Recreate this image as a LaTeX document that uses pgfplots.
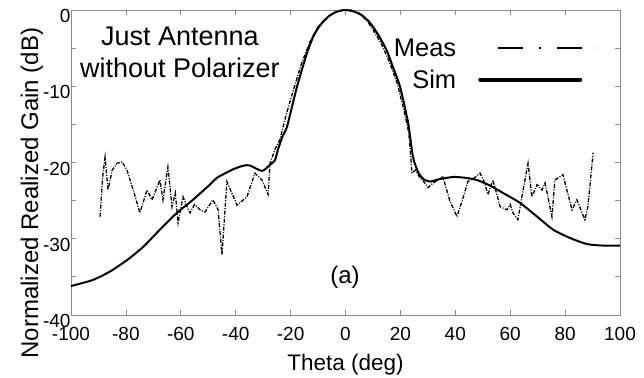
\documentclass[border=0pt]{standalone}
\usepackage{pgfplots}
\pgfplotsset{compat=1.18}
\usepackage{fontspec}
\setmainfont{Liberation Sans}
\definecolor{axgray}{RGB}{140,140,140}
\pgfplotstableread{
x y
-100 -36.2
-92 -35.4
-85.8 -34.3
-79.6 -32.8
-73.8 -31.1
-67.6 -28.8
-61.4 -26.6
-55.6 -24.9
-49.4 -22.9
-46.8 -22.0
-41.0 -20.9
-37 -20.4
-34.8 -20.4
-30.4 -21.1
-27.5 -20.3
-25.7 -19.7
-24.6 -18.3
-23 -16.6
-21.3 -15.3
-17.7 -10.1
-14.0 -5.6
-11.5 -3.3
-9 -1.9
-6 -0.8
-3 -0.2
0 0
3 -0.2
6 -0.7
9 -1.7
12 -3.3
15 -5.3
17.5 -7.7
19.9 -10.1
22.8 -14.8
24.6 -19.3
26.5 -21.3
28.5 -22.2
30.8 -22.5
34 -22.2
39.2 -21.9
43.5 -22.0
47.9 -22.3
52.5 -23.0
57.4 -24.0
63.6 -25.3
69.8 -27.1
75.6 -28.8
81.8 -29.9
88 -30.7
94 -30.9
100 -30.9
}\simtable
\pgfplotstableread{
x y
-89.4 -27.1
-88.5 -22
-87.6 -19.3
-86.5 -23.6
-85 -21
-83.2 -20.1
-81.4 -19.9
-79.6 -21.0
-77 -24
-74.9 -26.6
-72.3 -23.6
-70.5 -24.9
-67.6 -22.3
-66.5 -24.9
-64.7 -20.6
-63.2 -25.8
-62 -24
-61.0 -27.9
-59.2 -24.5
-57.5 -26
-56.6 -26.6
-55 -25.5
-53.0 -26.2
-51.2 -26.5
-48.3 -24.9
-46.4 -26.2
-45.0 -32.1
-43.2 -22.5
-39.5 -25.6
-35.9 -24.5
-33.0 -21.4
-30.4 -22.3
-28.2 -24.2
-27.5 -20.1
-25.7 -18.3
-23.9 -17.0
-21.8 -14
-19 -10.5
-16 -7
-13 -4.2
-10 -2.2
-7 -1.0
-4 -0.3
-1 0
2 0
5 -0.4
8 -1.5
10 -2.6
13 -4.4
16 -6.8
19 -9.8
21.5 -13.5
23 -16
23.5 -18.0
24.2 -21.4
25.5 -21.0
27.1 -22.0
28.5 -22.5
30.1 -23.3
31.9 -22.7
35.5 -21.9
38 -25
40.6 -27.1
42.5 -25
44.6 -22.5
47 -22
49.0 -21.4
50.5 -22.5
51.9 -24.2
53.7 -22.3
55 -24
56.3 -25.8
58.8 -26.2
60 -25.5
61.0 -26.6
62.8 -27.5
64.5 -24
66.5 -20.1
67.9 -24.5
69.8 -22.9
71.6 -23.6
72.7 -22.7
75.2 -27.1
76.3 -22.3
79.2 -21.6
82.5 -26.2
84.3 -24.9
87.2 -27.5
88.3 -25.8
90.2 -18.7
}\meastable
\begin{document}
\begin{tikzpicture}
\begin{axis}[
  scale only axis,
  width=549pt, height=305pt,
  xmin=-100, xmax=100, ymin=-40, ymax=0,
  xtick={-100,-80,...,100},
  xticklabels={-100,-80,-60,-40,-20,0,20,40,60,80,100},
  ytick={-40,-30,-20,-10,0},
  yticklabels={-40,-30,-20,-10,0},
  minor ytick={-35,-25,-15,-5},
  axis line style={axgray, line width=0.8pt},
  tick style={axgray, line width=0.8pt},
  major tick length=5pt, minor tick length=5pt,
  tick align=inside,
  ticklabel style={font=\fontsize{19}{20}\selectfont, black},
  xticklabel style={yshift=-9pt},
  yticklabel style={xshift=3pt, yshift=-6pt},
  xlabel={Theta (deg)},
  ylabel={Normalized Realized Gain (dB)},
  label style={font=\fontsize{22.5}{24}\selectfont},
  xlabel style={yshift=-6pt},
  ylabel style={at={(ticklabel cs:0.4)}, yshift=-7pt, font=\fontsize{24}{26}\selectfont},
  legend plot pos=right,
  legend cell align=right,
  legend style={draw=none, fill=none, at={(rel axis cs:0.968,0.92)}, anchor=north east,
    font=\fontsize{25.5}{28}\selectfont, row sep=8pt,
    /tikz/every odd column/.append style={column sep=20pt}},
  legend image code/.code={\draw[#1] (0pt,0pt) -- (100pt,0pt);},
]
\addplot[black, line width=1.3pt, dash pattern=on 4pt off 1.5pt on 1pt off 1.5pt, forget plot] table[x=x,y=y] {\meastable};
\addplot[black, line width=2pt, smooth, tension=0.4, forget plot] table[x=x,y=y] {\simtable};
\addlegendimage{black, line width=2pt, dash pattern=on 25pt off 16pt on 2pt off 16pt}
\addlegendentry{Meas}
\addlegendimage{legend image code/.code={\draw[black, line width=4pt, line cap=round] (-18pt,0pt) -- (82pt,0pt);}}
\addlegendentry{Sim\hspace{9pt}}
\node[font=\fontsize{27}{32}\selectfont, align=center] at (axis cs:-60.3,-5.6) {Just Antenna\\without Polarizer};
\node[font=\fontsize{24}{26}\selectfont] at (axis cs:-0.2,-35.0) {(a)};
\end{axis}
\pgfresetboundingbox
\path[use as bounding box] (current axis.south west) ++(-71pt,-62pt) rectangle ++(644pt,377pt);
\end{tikzpicture}
\end{document}
